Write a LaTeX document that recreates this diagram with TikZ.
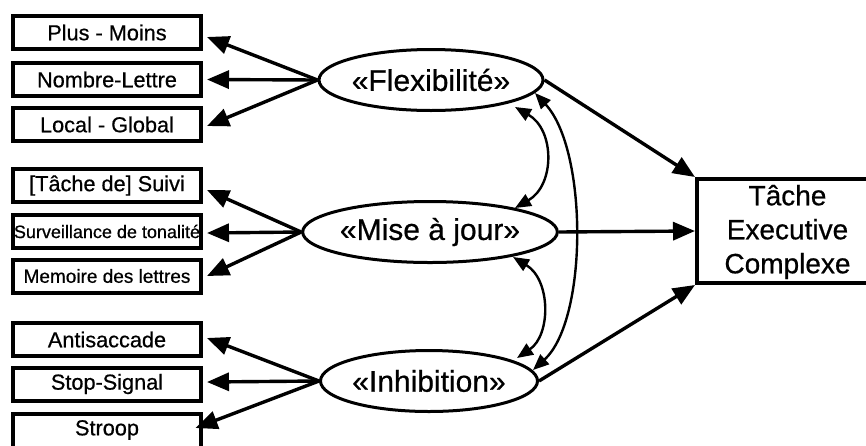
\documentclass[tikz,border=0pt]{standalone}
\usepackage{fontspec}
\setmainfont{Liberation Sans}[FakeBold=0.6]
\usetikzlibrary{arrows.meta,shapes.geometric,calc}
\begin{document}
\begin{tikzpicture}[x=1pt,y=-1pt,
 task/.style={draw,line width=4pt,minimum width=188pt,minimum height=33pt,inner sep=0pt,font=\fontsize{21.7}{26}\selectfont},
 factor/.style={draw,ellipse,line width=3pt,minimum width=203pt,minimum height=61pt,inner sep=0pt,font=\fontsize{30}{36}\selectfont},
 arr/.style={line width=3.4pt,-{Triangle[length=22pt,width=18pt]}},
 corr/.style={line width=2.4pt,{Triangle[length=16pt,width=13pt]}-{Triangle[length=16pt,width=13pt]}}]
\useasboundingbox (0,0) rectangle (866,445);
\clip (0,0) rectangle (866,445);
\fill[white] (0,0) rectangle (866,445);

\node[task] (b1) at (107,32.5) {Plus - Moins};
\node[task] (b2) at (107,79.5) {Nombre-Lettre};
\node[task] (b3) at (107,124.5) {Local - Global};
\node[task] (b4) at (107,185.5) {[Tâche de] Suivi};
\node[task,font=\fontsize{18}{22}\selectfont] (b5) at (107,231.5) {Surveillance de tonalité};
\node[task,font=\fontsize{19}{23}\selectfont] (b6) at (107,276) {Memoire des lettres};
\node[task] (b7) at (107,339.5) {Antisaccade};
\node[task] (b8) at (107,384) {Stop-Signal};
\node[task,minimum height=45pt] (b9) at (107,436) {};
\node[font=\fontsize{21.7}{26}\selectfont] (b9t) at (107,430) {Stroop};

\node[factor] (flex) at (431,80) {«Flexibilité»};
\node[factor] (mise) at (430,232) {«Mise à jour»};
\node[factor] (inhib) at (429,381) {«Inhibition»};

\node[minimum width=216pt,minimum height=104pt,inner sep=0pt,outer sep=2pt] (tec) at (805,231) {};
\draw[line width=4pt] ([xshift=-2pt,yshift=-2pt]tec.north east) -- ([xshift=2pt,yshift=-2pt]tec.north west) -- ([xshift=2pt,yshift=2pt]tec.south west) -- ([xshift=-2pt,yshift=2pt]tec.south east);
\node[align=center,font=\fontsize{28}{34}\selectfont] (tect) at (787.5,232) {Tâche\\Executive\\Complexe};

\draw[arr] (flex.west) -- ($(b1.east)+(4,4.5)$);
\draw[arr] (flex.west) -- ($(b2.east)+(4,0)$);
\draw[arr] (flex.west) -- ($(b3.east)+(4,1.5)$);
\draw[arr] (mise.west) -- ($(b4.east)+(4,4.5)$);
\draw[arr] (mise.west) -- ($(b5.east)+(4,1.5)$);
\draw[arr] (mise.west) -- ($(b6.east)+(4,0)$);
\draw[arr] (inhib.west) -- ($(b7.east)+(4,-1.5)$);
\draw[arr] (inhib.west) -- ($(b8.east)+(4,-2)$);
\draw[arr] (inhib.west) -- ($(b9t.east)+(53,-2)$);

\draw[arr] (flex.east) -- (tec.north west);
\draw[arr] (mise.east) -- (tec.west);
\draw[arr] (inhib.east) -- (tec.south west);

\draw[corr] ($(flex.center)+(84,27)$) .. controls ($(flex.center)+(124,50)$) and ($(mise.center)+(125,-47)$) .. ($(mise.center)+(85,-24)$);
\draw[corr] ($(flex.center)+(104,13)$) .. controls ($(flex.center)+(157,70)$) and ($(inhib.center)+(159,-61)$) .. ($(inhib.center)+(104,-11)$);
\draw[corr] ($(mise.center)+(83,25)$) .. controls ($(mise.center)+(121,48)$) and ($(inhib.center)+(122,-46)$) .. ($(inhib.center)+(88,-23)$);
\end{tikzpicture}
\end{document}
